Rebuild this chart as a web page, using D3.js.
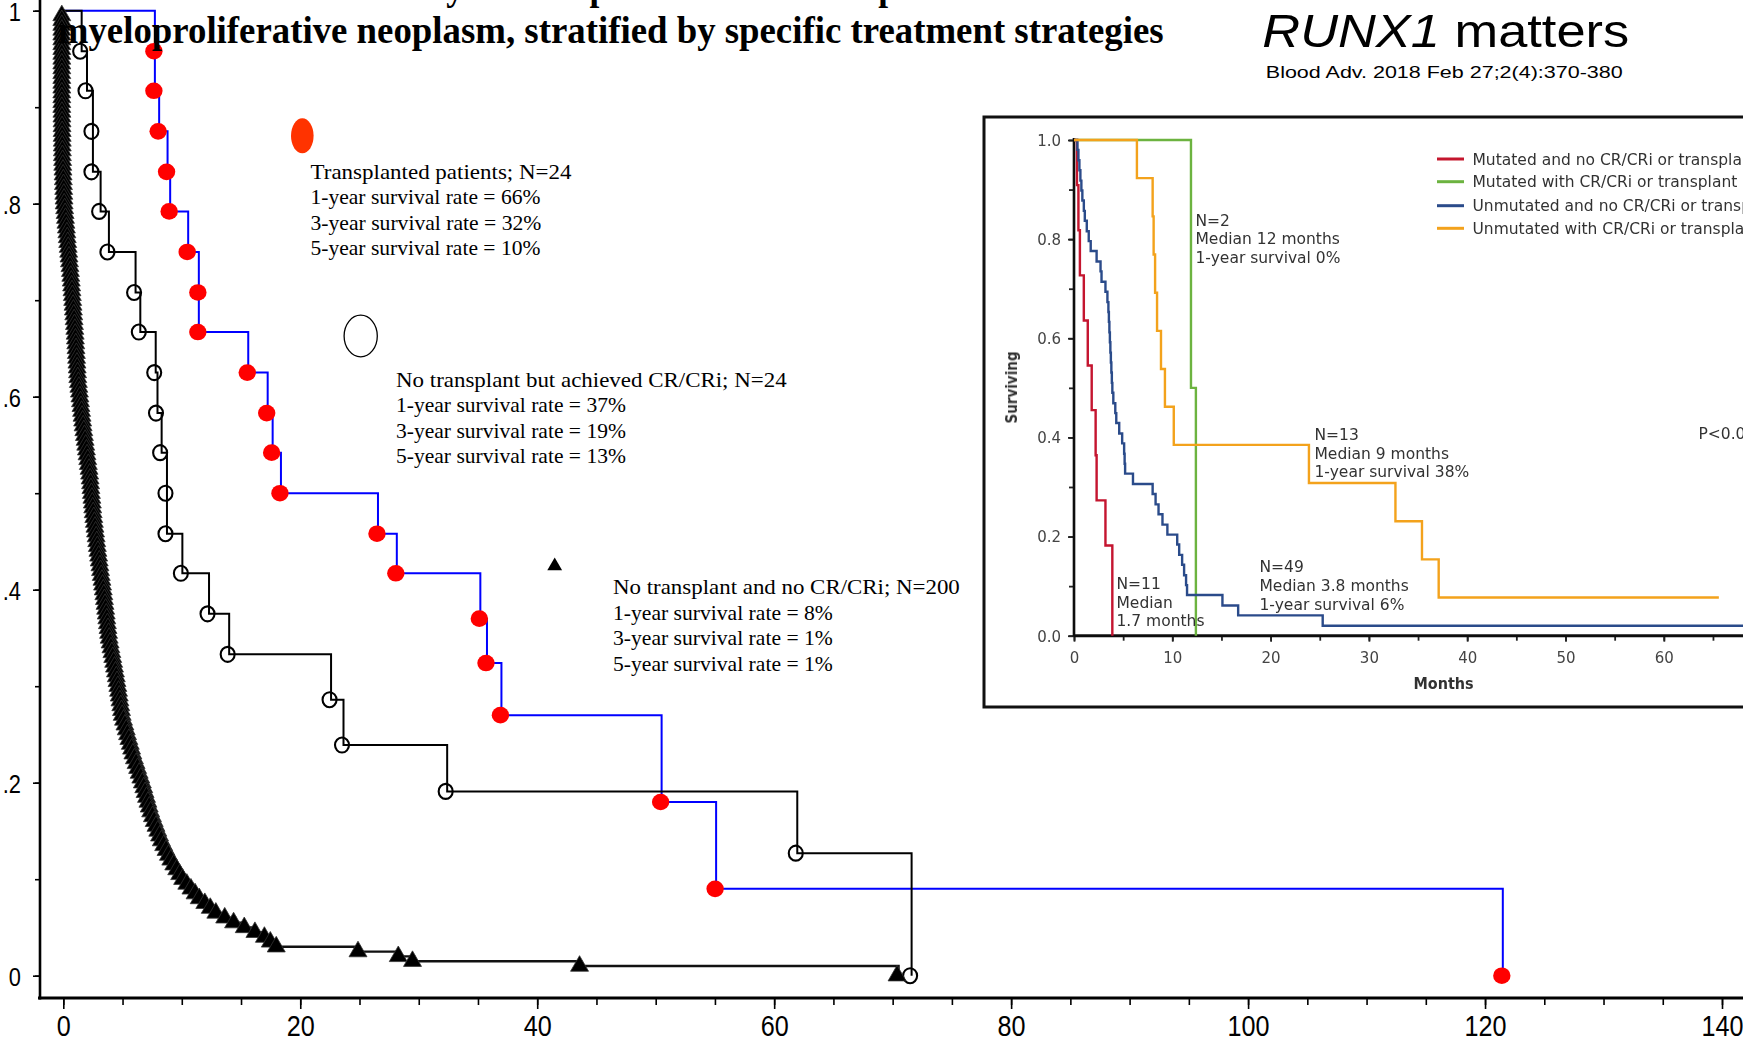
<!DOCTYPE html>
<html>
<head>
<meta charset="utf-8">
<script src="https://cdnjs.cloudflare.com/ajax/libs/d3/7.8.5/d3.min.js"></script>
<style>
  html, body { margin: 0; padding: 0; background: #fff; overflow: hidden; }
  svg { display: block; }
</style>
</head>
<body>
<svg id="chart" width="1743" height="1045"></svg>
<script>
// ---------------- data ----------------
const xTicks = [0, 20, 40, 60, 80, 100, 120, 140];
const yTicks = [0, 0.2, 0.4, 0.6, 0.8, 1];
const yTickLabels = ["0", ".2", ".4", ".6", ".8", "1"];

// Transplanted patients (N=24): month of each death and survival after it
const transplantMonths = [7.73, 7.73, 8.09, 8.80, 9.02, 10.54, 11.44, 11.44, 15.61, 17.25, 17.67, 18.37,
  26.56, 28.15, 35.2, 35.76, 36.98, 50.5, 55.1, 121.5];
const transplantSurvival = [0.958, 0.917, 0.875, 0.833, 0.792, 0.750, 0.708, 0.667, 0.625, 0.583, 0.542, 0.500,
  0.458, 0.417, 0.370, 0.324, 0.270, 0.180, 0.090, 0];

// No transplant but achieved CR/CRi (N=24)
const crMonths = [1.55, 2.0, 2.5, 2.5, 3.15, 3.85, 6.1, 6.5, 7.8, 7.95, 8.3, 8.75, 8.75, 10.05, 12.3, 14.0,
  22.6, 23.65, 32.4, 61.95, 71.6];
const crSurvival = [0.958, 0.917, 0.875, 0.833, 0.792, 0.750, 0.708, 0.667, 0.625, 0.583, 0.542, 0.500, 0.458,
  0.417, 0.375, 0.333, 0.286, 0.239, 0.191, 0.127, 0];

// No transplant and no CR/CRi (N=200): [month, survival] at each death
const noCrEvents = [
  [0,.995],[0,.99],[0,.985],[0,.98],[0,.975],[0,.97],[0,.965],[0,.96],[0,.955],[0,.95],
  [0,.945],[0,.94],[0,.935],[0,.93],[0,.925],[0,.92],[0,.915],[0,.91],[0,.905],[0,.90],
  [.01,.895],[.01,.89],[.02,.885],[.02,.88],[.03,.875],[.03,.87],[.04,.865],[.04,.86],[.05,.855],[.05,.85],
  [.07,.845],[.08,.84],[.1,.835],[.11,.83],[.13,.825],[.14,.82],[.16,.815],[.17,.81],[.19,.805],[.2,.8],
  [.24,.795],[.28,.79],[.31,.785],[.35,.78],[.39,.775],[.43,.77],[.46,.765],[.5,.76],
  [.54,.755],[.58,.75],[.61,.745],[.65,.74],[.69,.735],[.73,.73],[.76,.725],[.8,.72],
  [.83,.715],[.86,.71],[.89,.705],[.92,.7],[.95,.695],[.98,.69],[1.01,.685],[1.04,.68],[1.07,.675],[1.1,.67],
  [1.13,.665],[1.15,.66],[1.18,.655],[1.2,.65],[1.23,.645],[1.25,.64],[1.28,.635],[1.3,.63],[1.33,.625],[1.35,.62],
  [1.4,.615],[1.44,.61],[1.49,.605],[1.53,.6],[1.58,.595],[1.62,.59],[1.67,.585],[1.71,.58],[1.76,.575],[1.8,.57],
  [1.86,.565],[1.91,.56],[1.97,.555],[2.02,.55],[2.08,.545],[2.13,.54],[2.19,.535],[2.24,.53],[2.3,.525],[2.35,.52],
  [2.39,.515],[2.43,.51],[2.46,.505],[2.5,.5],[2.54,.495],[2.58,.49],[2.61,.485],[2.65,.48],
  [2.7,.475],[2.75,.47],[2.8,.465],[2.85,.46],[2.9,.455],[2.95,.45],[3,.445],[3.05,.44],
  [3.11,.435],[3.16,.43],[3.22,.425],[3.27,.42],[3.33,.415],[3.39,.41],[3.44,.405],[3.5,.4],
  [3.55,.395],[3.6,.39],[3.65,.385],[3.7,.38],[3.75,.375],[3.8,.37],[3.85,.365],[3.9,.36],[3.95,.355],[4,.35],
  [4.08,.345],[4.15,.34],[4.23,.335],[4.3,.33],[4.38,.325],[4.45,.32],[4.53,.315],[4.6,.31],
  [4.66,.305],[4.73,.3],[4.79,.295],[4.85,.29],[4.91,.285],[4.98,.28],[5.04,.275],[5.1,.27],
  [5.21,.265],[5.33,.26],[5.44,.255],[5.55,.25],[5.66,.245],[5.78,.24],[5.89,.235],[6,.23],
  [6.13,.225],[6.27,.22],[6.4,.215],[6.53,.21],[6.67,.205],[6.8,.2],
  [6.92,.195],[7.03,.19],[7.15,.185],[7.27,.18],[7.38,.175],[7.5,.17],
  [7.65,.165],[7.8,.16],[7.95,.155],[8.1,.15],[8.25,.145],[8.4,.14],
  [8.6,.135],[8.8,.13],[9,.125],[9.2,.12],
  [9.45,.115],[9.7,.11],[9.95,.105],[10.2,.1],
  [10.55,.095],[10.9,.09],[11.25,.085],[11.6,.08],
  [12.07,.075],[12.53,.07],[13,.065],
  [13.75,.06],[14.5,.055],
  [15.4,.05],[16.3,.045],[17.1,.04],[17.6,.035],[18.1,.03],
  [25,.025],[28.4,.02],[29.6,.015],[43.7,.01],[70.5,0]
];

const titleLines = [
  "Survival data of 248 Mayo Clinic patients with blast-phase",
  "myeloproliferative neoplasm, stratified by specific treatment strategies"
];
const transplantNote = ["Transplanted patients; N=24", "1-year survival rate = 66%",
  "3-year survival rate = 32%", "5-year survival rate = 10%"];
const crNote = ["No transplant but achieved CR/CRi; N=24", "1-year survival rate = 37%",
  "3-year survival rate = 19%", "5-year survival rate = 13%"];
const noCrNote = ["No transplant and no CR/CRi; N=200", "1-year survival rate = 8%",
  "3-year survival rate = 1%", "5-year survival rate = 1%"];

// Inset: RUNX1 mutation status x response
const insetXTicks = [0, 10, 20, 30, 40, 50, 60, 70];
const insetYTicks = [0, 0.2, 0.4, 0.6, 0.8, 1.0];
const insetLegend = ["Mutated and no CR/CRi or transplant", "Mutated with CR/CRi or transplant",
  "Unmutated and no CR/CRi or transplant", "Unmutated with CR/CRi or transplant"];
const insetColors = ["#c4122f", "#6cb33f", "#2c4b8a", "#f3a21c"];

const mutNoCrMonths = [0.3, 0.45, 0.6, 1.0, 1.4, 1.8, 2.2, 2.3, 3.2, 3.9, 3.9];
const mutNoCrSurv = [0.909, 0.818, 0.727, 0.636, 0.545, 0.455, 0.364, 0.273, 0.182, 0.091, 0];
const mutCrMonths = [11.9, 12.4];
const mutCrSurv = [0.5, 0];
const unmutNoCrMonths = [0.35, 0.45, 0.55, 0.65, 0.75, 0.85, 1.0, 1.1, 1.3, 1.5, 1.7, 2.3, 2.7, 2.8,
  3.2, 3.4, 3.5, 3.55, 3.6, 3.65, 3.7, 3.75, 3.8, 3.85, 3.9, 4.0, 4.2, 4.3, 4.6, 4.9, 5.1, 5.15, 5.2,
  6.0, 8.0, 8.3, 8.6, 9.0, 9.5, 10.5, 10.7, 11.0, 11.2, 11.4, 11.5, 15.1, 16.7, 25.3];
const unmutNoCrSurv = [.980, .959, .939, .918, .898, .878, .857, .837, .816, .796, .776, .755, .735, .714,
  .694, .673, .653, .633, .612, .592, .571, .551, .531, .510, .490, .469, .449, .429, .408, .388, .367, .347, .327,
  .306, .286, .265, .245, .224, .204, .184, .163, .143, .122, .102, .082, .061, .041, .020];
const unmutNoCrLastFollowUp = 76;
const unmutCrMonths = [6.4, 8.0, 8.1, 8.25, 8.45, 8.85, 9.25, 10.15, 23.9, 32.7, 35.4, 37.1];
const unmutCrSurv = [.923, .846, .769, .692, .615, .538, .462, .385, .308, .231, .154, .077];
const unmutCrLastFollowUp = 65.6;

// ---------------- drawing ----------------
const svg = d3.select("#chart");
const SERIF = "'Liberation Serif', 'Times New Roman', serif";
const SANS = "'Liberation Sans', Arial, sans-serif";
const INSET_FONT = "'DejaVu Sans', sans-serif";

const defs = svg.append("defs");
defs.append("filter").attr("id", "soft").attr("x", "-5%").attr("y", "-5%").attr("width", "110%").attr("height", "110%")
  .append("feGaussianBlur").attr("stdDeviation", 0.45);

const x = d3.scaleLinear().domain([0, 140]).range([63.3, 1722]);
const y = d3.scaleLinear().domain([0, 1]).range([975.7, 10.7]);

// horizontally fit a text element to a given width, anchored at (x0, y0)
function fitWidth(sel, x0, y0, width) {
  const w = sel.node().getComputedTextLength();
  sel.attr("transform", `translate(${x0},${y0}) scale(${width / w},1)`);
  return sel;
}

// Kaplan-Meier step path from event lists
function kmPoints(months, surv, lastMonth) {
  const pts = [[0, 1]];
  months.forEach((m, i) => pts.push([m, surv[i]]));
  if (lastMonth !== undefined) pts.push([lastMonth, surv[surv.length - 1]]);
  return pts;
}

// ---- main axes ----
const xAxisY = 998;
const gxMinor = svg.append("g").attr("transform", `translate(0,${xAxisY})`)
  .call(d3.axisBottom(x).tickValues(d3.range(0, 141, 5)).tickSize(7).tickFormat(""));
const gxMajor = svg.append("g").attr("transform", `translate(0,${xAxisY})`)
  .call(d3.axisBottom(x).tickValues(xTicks).tickSize(11).tickFormat(d3.format("d")));
[gxMinor, gxMajor].forEach(g => {
  g.select(".domain").remove();
  g.selectAll(".tick line").attr("stroke", "#000").attr("stroke-width", 1.6);
});
gxMajor.selectAll(".tick text")
  .attr("y", 0).attr("dy", 0)
  .attr("transform", "translate(0,38) scale(0.84,1)")
  .attr("font-family", SANS).attr("font-size", 30).attr("fill", "#000");

const yAxisX = 40;
const gyMinor = svg.append("g").attr("transform", `translate(${yAxisX},0)`)
  .call(d3.axisLeft(y).tickValues(d3.range(0, 11).map(d => d / 10)).tickSize(5).tickFormat(""));
const gyMajor = svg.append("g").attr("transform", `translate(${yAxisX},0)`)
  .call(d3.axisLeft(y).tickValues(yTicks).tickSize(7).tickFormat((d, i) => yTickLabels[i]));
[gyMinor, gyMajor].forEach(g => {
  g.select(".domain").remove();
  g.selectAll(".tick line").attr("stroke", "#000").attr("stroke-width", 1.6);
});
gyMajor.selectAll(".tick text")
  .attr("x", 0).attr("dy", "0.36em")
  .attr("transform", "translate(-19,0) scale(0.84,1)")
  .attr("text-anchor", "end")
  .attr("font-family", SANS).attr("font-size", 26).attr("fill", "#000");

svg.append("line").attr("x1", yAxisX).attr("x2", yAxisX).attr("y1", 0).attr("y2", xAxisY + 1.5)
  .attr("stroke", "#000").attr("stroke-width", 2.6);
svg.append("line").attr("x1", 38).attr("x2", 1743).attr("y1", xAxisY).attr("y2", xAxisY)
  .attr("stroke", "#000").attr("stroke-width", 3);

// ---- survival curves ----
const step = d3.line().x(d => x(d[0])).y(d => y(d[1])).curve(d3.curveStepAfter);

// transplanted: blue line, red dots
svg.append("path").datum(kmPoints(transplantMonths, transplantSurvival))
  .attr("d", step).attr("fill", "none").attr("stroke", "#0000ff").attr("stroke-width", 2);
svg.append("g").selectAll("ellipse").data(transplantMonths.map((m, i) => [m, transplantSurvival[i]]))
  .join("ellipse")
  .attr("cx", d => x(d[0]) - 1).attr("cy", d => y(d[1]))
  .attr("rx", 8.7).attr("ry", 8.3).attr("fill", "#ff0000");

// CR/CRi without transplant: black line, open circles
svg.append("path").datum(kmPoints(crMonths, crSurvival))
  .attr("d", step).attr("fill", "none").attr("stroke", "#000").attr("stroke-width", 2);
svg.append("g").selectAll("ellipse").data(crMonths.map((m, i) => [m, crSurvival[i]]))
  .join("ellipse")
  .attr("cx", d => x(d[0]) - 1.5).attr("cy", d => y(d[1]))
  .attr("rx", 7).attr("ry", 7.5).attr("fill", "none").attr("stroke", "#000").attr("stroke-width", 2.1);

// no transplant, no CR/CRi: black line, filled triangles
svg.append("path").datum([[0, 1], ...noCrEvents])
  .attr("d", step).attr("fill", "none").attr("stroke", "#111").attr("stroke-width", 2.4);
const tri = d3.symbol().type(d3.symbolTriangle).size(140);
svg.append("g").selectAll("path").data(noCrEvents).join("path")
  .attr("transform", d => `translate(${x(d[0]) - 1.5},${y(d[1])})`)
  .attr("d", tri).attr("fill", "#000").attr("stroke", "#333").attr("stroke-width", 0.8);

// ---- legend keys and notes ----
svg.append("ellipse").attr("cx", 302.3).attr("cy", 135.8).attr("rx", 11.3).attr("ry", 17.5).attr("fill", "#ff3300");
svg.append("ellipse").attr("cx", 360.7).attr("cy", 336).attr("rx", 16.6).attr("ry", 20.8)
  .attr("fill", "none").attr("stroke", "#000").attr("stroke-width", 1.3);
svg.append("path").attr("transform", "translate(554.7,566)")
  .attr("d", d3.symbol().type(d3.symbolTriangle).size(95)).attr("fill", "#000");

function note(lines, x0, y0, widths) {
  lines.forEach((t, i) => {
    const el = svg.append("text").attr("x", 0).attr("y", 0)
      .attr("font-family", SERIF).attr("font-size", 21.5).attr("fill", "#000").text(t);
    fitWidth(el, x0, y0 + i * 25.5, widths[i]);
  });
}
note(transplantNote, 310.5, 178.5, [261, 230, 231, 230]);
note(crNote, 396, 386.5, [391, 230, 230, 230]);
note(noCrNote, 613, 594, [347, 220, 220, 220]);

// ---- inset panel: survival by RUNX1 status ----
const ix = d3.scaleLinear().domain([0, 70]).range([1074, 1074 + 688.1]);
const iy = d3.scaleLinear().domain([0, 1]).range([635.7, 140]);

svg.append("rect").attr("x", 984).attr("y", 117).attr("width", 800).attr("height", 590).attr("fill", "#fff");
const inset = svg.append("g").attr("filter", "url(#soft)");

const ixMinor = inset.append("g").attr("transform", `translate(0,${iy(0)})`)
  .call(d3.axisBottom(ix).tickValues(d3.range(0, 76, 5)).tickSize(5).tickFormat(""));
const ixMajor = inset.append("g").attr("transform", `translate(0,${iy(0)})`)
  .call(d3.axisBottom(ix).tickValues(insetXTicks).tickSize(6).tickFormat(d3.format("d")));
const iyMinor = inset.append("g").attr("transform", `translate(${ix(0)},0)`)
  .call(d3.axisLeft(iy).tickValues(d3.range(0, 11).map(d => d / 10)).tickSize(5).tickFormat(""));
const iyMajor = inset.append("g").attr("transform", `translate(${ix(0)},0)`)
  .call(d3.axisLeft(iy).tickValues(insetYTicks).tickSize(6).tickFormat(d3.format(".1f")));
[ixMinor, ixMajor, iyMinor, iyMajor].forEach(g => {
  g.select(".domain").remove();
  g.selectAll(".tick line").attr("stroke", "#222").attr("stroke-width", 1.8);
});
ixMajor.selectAll(".tick text").attr("y", 27).attr("dy", 0)
  .attr("font-family", INSET_FONT).attr("font-size", 15).attr("fill", "#444");
iyMajor.selectAll(".tick text").attr("x", -13).attr("dy", "0.36em")
  .attr("font-family", INSET_FONT).attr("font-size", 15).attr("fill", "#444");

inset.append("line").attr("x1", ix(0)).attr("x2", 1743).attr("y1", iy(0)).attr("y2", iy(0))
  .attr("stroke", "#111").attr("stroke-width", 3);
inset.append("line").attr("x1", ix(0)).attr("x2", ix(0)).attr("y1", iy(1) - 2).attr("y2", iy(0) + 1)
  .attr("stroke", "#111").attr("stroke-width", 2.6);

inset.append("text").attr("x", 1443.6).attr("y", 689).attr("text-anchor", "middle")
  .attr("font-family", "'DejaVu Sans Condensed', 'DejaVu Sans', sans-serif").attr("font-weight", "bold")
  .attr("font-size", 16).attr("fill", "#333").text("Months");
inset.append("text").attr("transform", "translate(1017,387.5) rotate(-90)").attr("text-anchor", "middle")
  .attr("font-family", "'DejaVu Sans Condensed', 'DejaVu Sans', sans-serif").attr("font-weight", "bold")
  .attr("font-size", 15).attr("fill", "#333").text("Surviving");

const istep = d3.line().x(d => ix(d[0])).y(d => iy(d[1])).curve(d3.curveStepAfter);
const insetSeries = [
  { pts: kmPoints(mutCrMonths, mutCrSurv), color: insetColors[1] },
  { pts: kmPoints(mutNoCrMonths, mutNoCrSurv), color: insetColors[0] },
  { pts: kmPoints(unmutNoCrMonths, unmutNoCrSurv, unmutNoCrLastFollowUp), color: insetColors[2] },
  { pts: kmPoints(unmutCrMonths, unmutCrSurv, unmutCrLastFollowUp), color: insetColors[3] }
];
insetSeries.forEach(s => {
  inset.append("path").datum(s.pts).attr("d", istep).attr("fill", "none")
    .attr("stroke", s.color).attr("stroke-width", 2.4);
});

insetLegend.forEach((t, i) => {
  const ly = [159, 181.7, 205.7, 228.3][i];
  inset.append("line").attr("x1", 1437).attr("x2", 1464).attr("y1", ly).attr("y2", ly)
    .attr("stroke", insetColors[i]).attr("stroke-width", 3);
  inset.append("text").attr("x", 1472.5).attr("y", ly).attr("dy", "0.36em")
    .attr("font-family", INSET_FONT).attr("font-size", 15.5).attr("fill", "#333").text(t);
});

const insetNotes = [
  { x: 1195.5, y: 220, lines: ["N=2", "Median 12 months", "1-year survival 0%"] },
  { x: 1314.5, y: 434.3, lines: ["N=13", "Median 9 months", "1-year survival 38%"] },
  { x: 1259.5, y: 566.7, lines: ["N=49", "Median 3.8 months", "1-year survival 6%"] },
  { x: 1116.5, y: 583.3, lines: ["N=11", "Median", "1.7 months"] },
  { x: 1698.5, y: 433.3, lines: ["P<0.001"] }
];
insetNotes.forEach(n => {
  n.lines.forEach((t, i) => {
    inset.append("text").attr("x", n.x).attr("y", n.y + i * 18.7).attr("dy", "0.36em")
      .attr("font-family", INSET_FONT).attr("font-size", 15.5).attr("fill", "#333").text(t);
  });
});

svg.append("rect").attr("x", 984).attr("y", 117).attr("width", 800).attr("height", 590)
  .attr("fill", "none").attr("stroke", "#111").attr("stroke-width", 3);

// ---- headline texts ----
const runx = svg.append("text").attr("x", 0).attr("y", 0)
  .attr("font-family", SANS).attr("font-size", 46).attr("fill", "#000");
runx.append("tspan").attr("font-style", "italic").text("RUNX1");
runx.append("tspan").text(" matters");
fitWidth(runx, 1262.3, 46.7, 367);

const cite = svg.append("text").attr("x", 0).attr("y", 0)
  .attr("font-family", SANS).attr("font-size", 17).attr("fill", "#000")
  .text("Blood Adv. 2018 Feb 27;2(4):370-380");
fitWidth(cite, 1265.8, 77.9, 357);

// two-line title, drawn over the curves
const t1 = svg.append("text").attr("x", 0).attr("y", 0)
  .attr("font-family", SERIF).attr("font-weight", "bold").attr("font-size", 38).attr("fill", "#000")
  .text(titleLines[0]);
fitWidth(t1, 83, 0, 882);
const t2 = svg.append("text").attr("x", 0).attr("y", 0)
  .attr("font-family", SERIF).attr("font-weight", "bold").attr("font-size", 38).attr("fill", "#000")
  .text(titleLines[1]);
fitWidth(t2, 57.8, 43.3, 1106);
</script>
</body>
</html>
